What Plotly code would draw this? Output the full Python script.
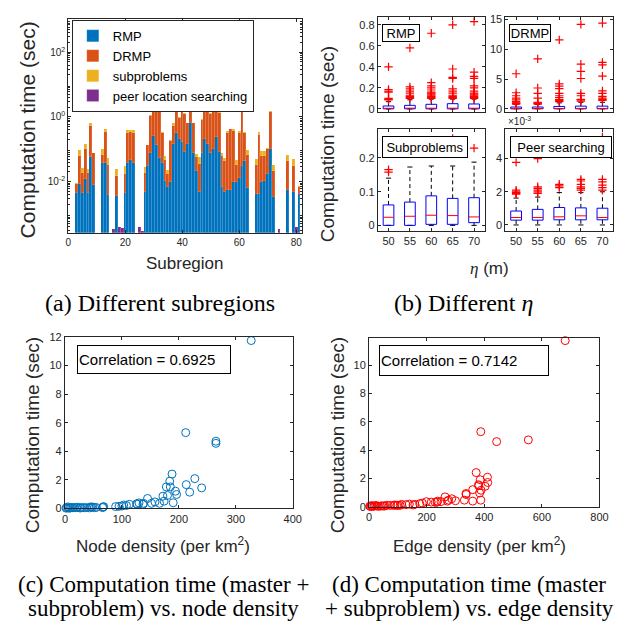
import plotly.graph_objects as go

W, H = 626, 625
FONT = "Liberation Sans"
SERIF = "Liberation Serif"
AXC = "#262626"

# ---------------- (a) computation time per subregion (sec) ----------------
subregion = list(range(1, 83))
rmp_time = [
    0, 0, 0.00447, 0.00851, 0.00447, 0.0120, 0.00447, 0.0562, 0.00813, 0,
    0, 0.038, 0.038, 0.00398, 0, 0, 0.00355, 0, 0, 0.00447,
    0.038, 0.0479, 0.038, 0, 0, 0, 0.00479, 0.0302, 0.0759, 0.263,
    0.1318, 0.0537, 0.038, 0.01072, 0.00676, 0.00955, 0.148, 0.331, 0.209, 0.166,
    0.0851, 0.148, 0.676, 0.0759, 0.0214, 0.00479, 0.0759, 0.209, 0.148, 0.0759,
    0.1, 0.234, 0.0851, 0.00676, 0.00479, 0.00537, 0.00537, 0.01, 0.01, 0.0126,
    0.0302, 0.0427, 0.00646, 0, 0, 0.00427, 0.00427, 0.00955, 0.01072, 0.0178,
    0.1, 0.00339, 0, 0, 0, 0, 0.00562, 0, 0.00479, 0,
    0.00407, 0,
]
drmp_time = [
    0, 0, 0.00404, 0.0518, 0.0137, 0.088, 0.0146, 0.469, 0.0678, 0,
    0, 0.0296, 0.309, 0.0299, 0, 0, 0.0116, 0, 0, 0.0125,
    0.293, 0.291, 0.293, 0, 0, 0, 0.0134, 0.1016, 0.971, 1.976,
    3.849, 3.494, 0.293, 0.0372, 0.0102, 0.176, 0.377, 1.531, 0.724, 1.494,
    1.174, 0.483, 3.305, 0.555, 0.0348, 0.0307, 0.718, 3.772, 1.265, 1.183,
    1.485, 3.747, 1.233, 0.0535, 0.0399, 0.326, 0.412, 0.362, 0.0239, 0.318,
    1.748, 0.288, 0.0611, 0, 0, 0.0296, 0.271, 0.0508, 0.0496, 0.0869,
    1.345, 0.018, 0, 0, 0, 0, 0.0371, 0, 0.0254, 0,
    0.0027, 0,
]
sub_time = [
    0, 0, 0.0004, 0.0352, 0.0093, 0.051, 0.006, 0.136, 0.0035, 0,
    0, 0.0324, 0.09, 0.0198, 0, 0, 0.0089, 0, 0, 0.0132,
    0.058, 0.059, 0.058, 0, 0, 0, 0.01, 0.0062, 0.075, 0.105,
    0.188, 0.167, 0.016, 0.0124, 0.0054, 0.009, 0.106, 0.088, 0.044, 0.078,
    0.059, 0.03, 0.188, 0.03, 0.0146, 0.0207, 0.097, 0.188, 0.066, 0.059,
    0.075, 0.188, 0.062, 0.0156, 0.009, 0.032, 0.02, 0.045, 0.0118, 0.041,
    0.084, 0.016, 0.0279, 0, 0, 0.0174, 0.072, 0.0288, 0.0288, 0.0049,
    0.069, 0.0125, 0, 0, 0, 0, 0.0249, 0, 0.0211, 0,
    0.0008, 0,
]
peer_time = [
    0, 0, 0, 0, 0, 0, 0, 0, 0, 0,
    0, 0, 0, 0, 0, 0.00035, 0, 0.0004, 0.00038, 0,
    0, 0, 0, 0, 0.0004, 0.0003, 0, 0, 0, 0,
    0, 0, 0, 0, 0, 0, 0, 0, 0, 0,
    0, 0, 0, 0, 0, 0, 0, 0, 0, 0,
    0, 0, 0, 0, 0, 0, 0, 0, 0, 0,
    0, 0, 0, 0, 0, 0, 0, 0, 0, 0,
    0, 0, 0, 0.00035, 0, 0, 0, 0, 0, 0.0004,
    0, 0,
]

# ---------------- (b) box statistics for different eta ----------------
eta = [50, 55, 60, 65, 70]

rmp_q1 = [0.001, 0.001, 0.001, 0.001, 0.001]
rmp_med = [0.006, 0.007, 0.007, 0.007, 0.007]
rmp_q3 = [0.028, 0.034, 0.044, 0.050, 0.047]
rmp_lo = [0, 0, 0, 0, 0]
rmp_hi = [0.069, 0.087, 0.093, 0.093, 0.093]
rmp_out = [
    [0.40, 0.185, 0.17, 0.16, 0.10, 0.09, 0.085],
    [0.58, 0.21, 0.19, 0.17, 0.15, 0.13, 0.12, 0.11, 0.10],
    [0.72, 0.25, 0.22, 0.20, 0.18, 0.16, 0.15, 0.14, 0.13, 0.12, 0.11, 0.10],
    [0.80, 0.38, 0.30, 0.29, 0.19, 0.17, 0.15, 0.13, 0.12, 0.11, 0.10],
    [0.83, 0.35, 0.31, 0.29, 0.22, 0.20, 0.17, 0.15, 0.14, 0.13, 0.12, 0.11, 0.10],
]

drmp_q1 = [0.005, 0.005, 0.005, 0.005, 0.005]
drmp_med = [0.05, 0.05, 0.06, 0.06, 0.06]
drmp_q3 = [0.30, 0.30, 0.40, 0.45, 0.45]
drmp_lo = [0, 0, 0, 0, 0]
drmp_hi = [0.75, 0.75, 1.0, 1.1, 1.1]
drmp_out = [
    [5.9, 2.7, 2.2, 1.8, 1.5, 1.2, 1.0, 0.9, 0.8],
    [8.4, 3.5, 2.6, 1.8, 1.1, 1.0, 0.9, 0.8],
    [11.6, 4.2, 3.8, 3.4, 2.6, 2.2, 1.9, 1.6, 1.4, 1.2],
    [14.2, 7.5, 6.3, 5.1, 2.6, 2.2, 1.6, 1.5, 1.3],
    [14.4, 7.8, 7.4, 5.5, 3.0, 2.6, 2.1, 1.8, 1.6, 1.4],
]

sub_q1 = [0.0, 0.0, 0.003, 0.003, 0.008]
sub_med = [0.024, 0.027, 0.030, 0.029, 0.025]
sub_q3 = [0.0606, 0.069, 0.0875, 0.080, 0.082]
sub_lo = [0, 0, 0, 0, 0]
sub_hi = [0.14, 0.173, 0.176, 0.176, 0.1875]
sub_out = [[0.165, 0.158], [], [], [0.258], [0.229]]

peer_q1 = [0.00029, 0.00029, 0.00031, 0.00031, 0.00031]
peer_med = [0.00045, 0.00045, 0.00049, 0.00055, 0.00045]
peer_q3 = [0.00084, 0.00094, 0.00105, 0.00103, 0.00101]
peer_lo = [0, 0, 0, 0, 0]
peer_hi = [0.00162, 0.00168, 0.00195, 0.00195, 0.0020]
peer_out = [
    [0.00377, 0.0021, 0.0020, 0.00195, 0.0019, 0.00185],
    [0.0040, 0.0023, 0.0022, 0.0021, 0.0020, 0.0019],
    [0.00445, 0.00245, 0.00235, 0.00225],
    [0.0051, 0.00275, 0.00265, 0.00245, 0.0023, 0.0022, 0.0021],
    [0.0053, 0.00515, 0.00505, 0.00275, 0.0026, 0.0024, 0.00225, 0.0021],
]

# ---------------- (c)/(d) computation time vs density ----------------
node_density = [327, 212, 265, 265, 188, 228, 184, 178, 185, 213, 240, 194, 196, 219, 180,
                172, 190, 174, 166, 145, 152, 138, 137, 126, 127, 113, 100, 103, 89, 95,
                67, 66, 49, 52, 43, 34, 26, 17, 10, 6, 3, 2, 5, 8, 12,
                14, 20, 22, 28, 31, 38, 45, 47, 55, 68, 130, 158, 108]
node_time = [11.75, 5.3, 4.7, 4.55, 2.4, 2.08, 1.9, 1.5, 1.5, 1.66, 1.43, 1.2, 0.97, 1.13, 0.9,
             0.85, 0.39, 0.5, 0.35, 0.69, 0.35, 0.35, 0.28, 0.32, 0.28, 0.28, 0.16, 0.23, 0.12, 0.14,
             0.09, 0.05, 0.09, 0.05, 0.03, 0.04, 0.03, 0.05, 0.03, 0.02, 0.05, 0.01, 0.1, 0.02, 0.06,
             0.04, 0.05, 0.08, 0.03, 0.06, 0.05, 0.1, 0.07, 0.06, 0.12, 0.38, 0.45, 0.2]
edge_density = [681, 388, 443, 553, 372, 411, 386, 380, 381, 412, 403, 389, 360, 384, 337,
                337, 331, 360, 388, 287, 264, 276, 272, 238, 236, 216, 199, 176, 159, 153,
                113, 108, 96, 85, 74, 51, 40, 28, 17, 8, 3, 5, 10, 12, 20,
                24, 33, 45, 55, 62, 90, 100, 128, 140, 185, 230, 250, 300]
edge_time = [11.74, 5.3, 4.6, 4.72, 2.41, 2.08, 1.9, 1.55, 1.48, 1.71, 1.44, 1.16, 1.2, 0.97, 0.93,
             0.86, 0.46, 0.39, 0.46, 0.56, 0.69, 0.46, 0.39, 0.39, 0.32, 0.32, 0.35, 0.21, 0.16, 0.12,
             0.16, 0.09, 0.09, 0.09, 0.09, 0.04, 0.04, 0.04, 0.04, 0.04, 0.04, 0.01, 0.07, 0.02, 0.05,
             0.08, 0.03, 0.06, 0.05, 0.1, 0.12, 0.1, 0.14, 0.18, 0.25, 0.3, 0.36, 0.42]
corr_node = 0.6925
corr_edge = 0.7142


def px_x(p):
    return p / W


def px_y(p):
    return 1 - p / H


fig = go.Figure()

# (a) stacked bars
bar_colors = ["#0072BD", "#D95319", "#EDB120", "#7E2F8E"]
bar_names = ["RMP", "DRMP", "subproblems", "peer location searching"]
for vals, c, n in zip([rmp_time, drmp_time, sub_time, peer_time], bar_colors, bar_names):
    fig.add_trace(go.Bar(
        x=subregion, y=vals, name=n, marker_color=c,
        marker_line=dict(width=0.4, color="rgba(255,255,255,0.3)"),
        legendgroup=n, xaxis="x", yaxis="y",
    ))


# (b) MATLAB-style box plots
def box_traces(ax, q1, med, q3, lo, hi, out):
    hw, cw = 1.25, 0.6
    bx, by, mx, my, wx, wy, cx, cy, ox, oy = [], [], [], [], [], [], [], [], [], []
    for e, a, m, b, l, h, o in zip(eta, q1, med, q3, lo, hi, out):
        bx += [e - hw, e + hw, e + hw, e - hw, e - hw, None]
        by += [a, a, b, b, a, None]
        mx += [e - hw, e + hw, None]
        my += [m, m, None]
        wx += [e, e, None, e, e, None]
        wy += [b, h, None, a, l, None]
        cx += [e - cw, e + cw, None, e - cw, e + cw, None]
        cy += [h, h, None, l, l, None]
        ox += [e] * len(o)
        oy += o
    xa, ya = "x" + ax, "y" + ax
    common = dict(xaxis=xa, yaxis=ya, showlegend=False, hoverinfo="skip")
    return [
        go.Scatter(x=wx, y=wy, mode="lines", line=dict(color="black", width=1, dash="4px,3px"), **common),
        go.Scatter(x=cx, y=cy, mode="lines", line=dict(color="black", width=1), **common),
        go.Scatter(x=bx, y=by, mode="lines", line=dict(color="blue", width=1), **common),
        go.Scatter(x=mx, y=my, mode="lines", line=dict(color="red", width=1), **common),
        go.Scatter(x=ox, y=oy, mode="markers", cliponaxis=False,
                   marker=dict(symbol="cross-thin", size=6, line=dict(color="red", width=1.2)), **common),
    ]


for ax, stats in [("2", (rmp_q1, rmp_med, rmp_q3, rmp_lo, rmp_hi, rmp_out)),
                  ("3", (drmp_q1, drmp_med, drmp_q3, drmp_lo, drmp_hi, drmp_out)),
                  ("4", (sub_q1, sub_med, sub_q3, sub_lo, sub_hi, sub_out)),
                  ("5", (peer_q1, peer_med, peer_q3, peer_lo, peer_hi, peer_out))]:
    for t in box_traces(ax, *stats):
        fig.add_trace(t)

# (c), (d) scatter
fig.add_trace(go.Scatter(x=node_density, y=node_time, mode="markers", xaxis="x6", yaxis="y6",
                         showlegend=False, cliponaxis=False,
                         marker=dict(symbol="circle-open", size=8, color="#0072BD", line=dict(width=1))))
fig.add_trace(go.Scatter(x=edge_density, y=edge_time, mode="markers", xaxis="x7", yaxis="y7",
                         showlegend=False, cliponaxis=False,
                         marker=dict(symbol="circle-open", size=8, color="#FF0000", line=dict(width=1))))


def axis(domain, anchor, size=11, **kw):
    d = dict(domain=domain, anchor=anchor, showline=True, linecolor=AXC, linewidth=1,
             mirror="ticks", ticks="inside", ticklen=3, tickcolor=AXC, showgrid=False,
             zeroline=False, tickfont=dict(family=FONT, size=size, color=AXC))
    d.update(kw)
    return d


xa_dom = [px_x(58.3), px_x(296.7)]
ya_dom = [px_y(223), px_y(5)]
bl_dom = [px_x(374), px_x(483)]
br_dom = [px_x(504), px_x(614)]
bt_dom = [px_y(100), px_y(3)]
bb_dom = [px_y(221), px_y(117)]
c_x = [px_x(55), px_x(287.3)]
c_y = [px_y(504), px_y(329.3)]
d_x = [px_x(365), px_x(600)]
d_y = [px_y(502.3), px_y(330.7)]

eta_range = [47.5, 72.5]
minor_log = [k * 10 ** e for e in range(-4, 4) for k in range(2, 10)]

fig.update_layout(
    width=W, height=H, autosize=False,
    margin=dict(l=0, r=0, t=0, b=0),
    paper_bgcolor="white", plot_bgcolor="white",
    font=dict(family=FONT, color=AXC),
    barmode="stack", bargap=0,
    xaxis=axis(xa_dom, "y", size=10, range=[0, 82], tickvals=[0, 20, 40, 60, 80]),
    yaxis=axis(ya_dom, "x", size=10, type="log", range=[-3.58, 3.03],
               tickvals=[0.01, 1, 100],
               ticktext=["10<sup>-2</sup>", "10<sup>0</sup>", "10<sup>2</sup>"],
               minor=dict(ticks="inside", ticklen=2, tickcolor=AXC, tickmode="array", tickvals=minor_log)),
    xaxis2=axis(bl_dom, "y2", range=eta_range, tickvals=eta, showticklabels=False),
    yaxis2=axis(bt_dom, "x2", range=[-0.03, 0.875], tickvals=[0, 0.2, 0.4, 0.6, 0.8]),
    xaxis3=axis(br_dom, "y3", range=eta_range, tickvals=eta, showticklabels=False),
    yaxis3=axis(bt_dom, "x3", range=[-0.55, 15.45], tickvals=[0, 5, 10, 15]),
    xaxis4=axis(bl_dom, "y4", range=eta_range, tickvals=eta),
    yaxis4=axis(bb_dom, "x4", range=[-0.016, 0.2865], tickvals=[0, 0.1, 0.2]),
    xaxis5=axis(br_dom, "y5", range=eta_range, tickvals=eta),
    yaxis5=axis(bb_dom, "x5", range=[-0.00035, 0.0058], tickvals=[0, 0.002, 0.004],
                ticktext=["0", "2", "4"]),
    xaxis6=axis(c_x, "y6", range=[0, 400], tickvals=[0, 100, 200, 300, 400]),
    yaxis6=axis(c_y, "x6", range=[0, 12], tickvals=[0, 2, 4, 6, 8, 10, 12]),
    xaxis7=axis(d_x, "y7", range=[0, 800], tickvals=[0, 200, 400, 600, 800]),
    yaxis7=axis(d_y, "x7", range=[0, 11.9], tickvals=[0, 2, 4, 6, 8, 10]),
    legend=dict(x=px_x(62), y=px_y(6), xanchor="left", yanchor="top",
                bgcolor="white", bordercolor=AXC, borderwidth=1,
                font=dict(family=FONT, size=13, color="black"),
                traceorder="normal", tracegroupgap=0, itemwidth=30),
)


def ann(text, x, y, size, family=FONT, color="black", **kw):
    kw.setdefault("xanchor", "center")
    kw.setdefault("yanchor", "middle")
    return dict(text=text, x=px_x(x), y=px_y(y), xref="paper", yref="paper", showarrow=False,
                font=dict(family=family, size=size, color=color), **kw)


def label_box(text, x, y, w, h, size=13):
    return ann(text, x, y, size, xanchor="left", yanchor="top", width=w, height=h,
               bordercolor="black", borderwidth=1, bgcolor="white", borderpad=0, align="center")


eta_sym = '<span style="font-family:Liberation Serif"><i>η</i></span>'
annotations = [
    # (a)
    ann("Computation time (sec)", 17, 118, 21, color=AXC, textangle=-90),
    ann("Subregion", 177, 254, 17, color=AXC),
    ann("(a) Different subregions", 152, 295, 24, family=SERIF),
    # (b)
    ann("Computation time (sec)", 323, 133, 19, color=AXC, textangle=-90),
    ann(eta_sym + " (m)", 488, 259, 17, color=AXC),
    ann("(b) Different <i>η</i>", 461, 295, 24, family=SERIF),
    label_box("RMP", 378, 10, 36, 16),
    label_box("DRMP", 508, 10, 40, 16),
    label_box("Subproblems", 378, 124, 84, 20),
    label_box("Peer searching", 509, 124, 100, 20),
    ann("×10<sup>-3</sup>", 505, 117, 10, color=AXC, xanchor="left", yanchor="bottom"),
    # (c)
    ann("Computation time (sec)", 22, 430, 19, color=AXC, textangle=-90),
    ann("Node density (per km<sup>2</sup>)", 155, 541, 17, color=AXC),
    ann("Correlation = %.4f" % corr_node, 67, 337, 15, xanchor="left", yanchor="top",
        width=150, height=25, align="left", bordercolor="black", borderwidth=1,
        bgcolor="white", borderpad=1),
    ann("(c) Computation time (master +", 155, 582, 23, family=SERIF),
    ann("subproblem) vs. node density", 155, 606, 23, family=SERIF),
    # (d)
    ann("Computation time (sec)", 333, 430, 19, color=AXC, textangle=-90),
    ann("Edge density (per km<sup>2</sup>)", 478, 541, 17, color=AXC),
    ann("Correlation = %.4f" % corr_edge, 375, 337, 15, xanchor="left", yanchor="top",
        width=166, height=27, align="left", bordercolor="black", borderwidth=1,
        bgcolor="white", borderpad=1),
    ann("(d) Computation time (master", 467, 582, 23, family=SERIF),
    ann("+ subproblem) vs. edge density", 467, 606, 23, family=SERIF),
]
fig.update_layout(annotations=annotations)

fig.write_html("out.html")
